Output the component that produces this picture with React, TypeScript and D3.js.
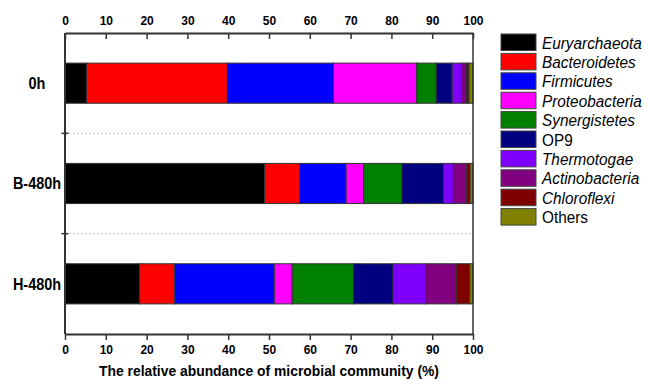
import React, { useRef, useEffect } from 'react';
import * as d3 from 'd3';

const samples = ['0h', 'B-480h', 'H-480h'];
const phyla = ['Euryarchaeota', 'Bacteroidetes', 'Firmicutes', 'Proteobacteria', 'Synergistetes', 'OP9', 'Thermotogae', 'Actinobacteria', 'Chloroflexi', 'Others'];
const colors = ['#000000', '#ff0000', '#0000ff', '#ff00ff', '#008000', '#000080', '#8000ff', '#800080', '#800000', '#808000'];
const italicNames = [true, true, true, true, true, false, true, true, true, false];

// relative abundance (%) per sample, one array per phylum
const euryarchaeota = [5.3, 48.9, 18.3];
const bacteroidetes = [34.5, 8.6, 8.6];
const firmicutes = [26.0, 11.4, 24.4];
const proteobacteria = [20.4, 4.3, 4.4];
const synergistetes = [4.8, 9.4, 15.0];
const op9 = [3.9, 10.2, 9.7];
const thermotogae = [2.3, 2.4, 8.0];
const actinobacteria = [1.2, 3.3, 7.5];
const chloroflexi = [0.6, 0.8, 3.3];
const others = [1.0, 0.7, 0.8];

const series = [euryarchaeota, bacteroidetes, firmicutes, proteobacteria, synergistetes, op9, thermotogae, actinobacteria, chloroflexi, others];
const majorTicks = [0, 10, 20, 30, 40, 50, 60, 70, 80, 90, 100];

const FONT = 'Arial, "Liberation Sans", Helvetica, sans-serif';

const Chart = () => {
  const ref = useRef(null);

  useEffect(() => {
    const width = 648;
    const height = 379;
    const left = 65, right = 473, top = 33, bottom = 334;

    const rows = samples.map((s, i) => {
      const r = { sample: s };
      phyla.forEach((p, j) => { r[p] = series[j][i]; });
      return r;
    });

    const x = d3.scaleLinear().domain([0, 100]).range([left, right]);
    const y = d3.scaleBand().domain(samples).range([top, bottom]).paddingInner(0.6).paddingOuter(0.3);
    const color = d3.scaleOrdinal().domain(phyla).range(colors);
    const stacked = d3.stack().keys(phyla)(rows);

    const minorTicks = d3.range(0, 100.01, 10 / 3).filter(v => Math.abs(v / 10 - Math.round(v / 10)) > 0.01);

    const svg = d3.select(ref.current)
      .attr('width', width)
      .attr('height', height)
      .style('display', 'block')
      .style('position', 'absolute')
      .style('left', 0)
      .style('top', 0);

    svg.selectAll('*').remove();

    // dotted separators between samples
    const seps = samples.slice(1).map((s, i) => (y(samples[i]) + y.bandwidth() + y(s)) / 2);
    svg.append('g').selectAll('line')
      .data(seps)
      .join('line')
      .attr('x1', left).attr('x2', right)
      .attr('y1', d => d).attr('y2', d => d)
      .attr('stroke', '#c8c8c8')
      .attr('stroke-width', 1)
      .attr('stroke-dasharray', '2,2');

    // bars
    svg.append('g').selectAll('g')
      .data(stacked)
      .join('g')
      .attr('fill', d => color(d.key))
      .selectAll('rect')
      .data(d => d)
      .join('rect')
      .attr('x', d => x(d[0]))
      .attr('width', d => x(d[1]) - x(d[0]))
      .attr('y', d => y(d.data.sample))
      .attr('height', y.bandwidth())
      .attr('stroke', '#333')
      .attr('stroke-width', 1);

    // top axis, ticks pointing into the plot
    const gTop = svg.append('g').attr('transform', `translate(0,${top})`);
    gTop.call(d3.axisTop(x).tickValues(minorTicks).tickSizeInner(-3).tickSizeOuter(0).tickFormat(() => ''));
    gTop.call(d3.axisTop(x).tickValues(majorTicks).tickSizeInner(-6).tickSizeOuter(0).tickPadding(8.5).tickFormat(d3.format('d')));

    // bottom axis
    const gBot = svg.append('g').attr('transform', `translate(0,${bottom})`);
    gBot.call(d3.axisBottom(x).tickValues(minorTicks).tickSizeInner(3).tickSizeOuter(0).tickFormat(() => ''));
    gBot.call(d3.axisBottom(x).tickValues(majorTicks).tickSizeInner(6).tickSizeOuter(0).tickPadding(5).tickFormat(d3.format('d')));

    [gTop, gBot].forEach(g => {
      g.selectAll('path.domain').attr('stroke', '#333').attr('stroke-width', 2);
      g.selectAll('line').attr('stroke', '#333').attr('stroke-width', 1.5);
      g.selectAll('text')
        .attr('fill', '#000')
        .style('font-family', FONT)
        .style('font-size', '12px')
        .style('font-weight', 'bold');
    });

    // left and right frame
    svg.append('line')
      .attr('x1', left).attr('x2', left).attr('y1', top).attr('y2', bottom)
      .attr('stroke', '#333').attr('stroke-width', 2);
    svg.append('line')
      .attr('x1', right).attr('x2', right).attr('y1', top).attr('y2', bottom)
      .attr('stroke', '#333').attr('stroke-width', 1.5);

    // cross ticks on the left axis
    svg.append('g').selectAll('line')
      .data(seps)
      .join('line')
      .attr('x1', left - 3.5).attr('x2', left + 3.5)
      .attr('y1', d => d).attr('y2', d => d)
      .attr('stroke', '#333').attr('stroke-width', 1.5);

    // sample labels
    svg.append('g').selectAll('g')
      .data(samples)
      .join('g')
      .attr('transform', d => `translate(37,${y(d) + y.bandwidth() / 2}) scale(0.85,1)`)
      .append('text')
      .attr('text-anchor', 'middle')
      .attr('dy', '0.35em')
      .style('font-family', FONT)
      .style('font-size', '17px')
      .style('font-weight', 'bold')
      .text(d => d);

    // axis title
    svg.append('text')
      .attr('x', (left + right) / 2)
      .attr('y', 376)
      .attr('text-anchor', 'middle')
      .attr('textLength', 340)
      .attr('lengthAdjust', 'spacingAndGlyphs')
      .style('font-family', FONT)
      .style('font-size', '14px')
      .style('font-weight', 'bold')
      .text('The relative abundance of microbial community (%)');

    // legend
    const legend = svg.append('g').attr('transform', 'translate(501,34)');
    const item = legend.selectAll('g')
      .data(phyla)
      .join('g')
      .attr('transform', (d, i) => `translate(0,${i * 19.4})`);
    item.append('rect')
      .attr('width', 35)
      .attr('height', 16.5)
      .attr('fill', d => color(d))
      .attr('stroke', '#444')
      .attr('stroke-width', 1);
    item.append('g')
      .attr('transform', 'translate(41,14.5) scale(0.93,1)')
      .append('text')
      .style('font-family', FONT)
      .style('font-size', '16.5px')
      .style('font-style', (d, i) => (italicNames[i] ? 'italic' : 'normal'))
      .text(d => d);

    return () => {
      svg.selectAll('*').remove();
    };
  }, []);

  return <svg ref={ref}></svg>;
};

export default function App() {
  return <Chart />;
}
